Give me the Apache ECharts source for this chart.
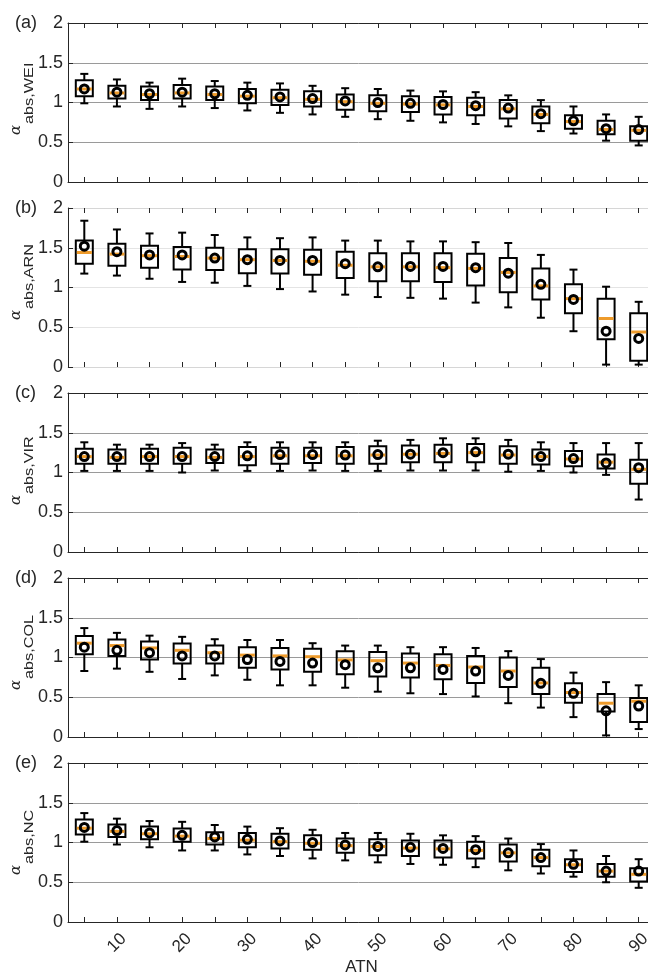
<!DOCTYPE html>
<html>
<head>
<meta charset="utf-8">
<script src="https://cdn.jsdelivr.net/npm/echarts@6/dist/echarts.min.js"></script>
<style>
  html, body { margin: 0; padding: 0; background: #fff; }
  #chart { width: 648px; height: 977px; }
</style>
</head>
<body>
<div id="chart"></div>
<script>
// ATN categories (one box per value)
const atn = ['5', '10', '15', '20', '25', '30', '35', '40', '45', '50',
             '55', '60', '65', '70', '75', '80', '85', '90'];
const panelLabels = ['(a)', '(b)', '(c)', '(d)', '(e)'];
const subscripts = ['abs,WEI', 'abs,ARN', 'abs,VIR', 'abs,COL', 'abs,NC'];

// each row: [lower whisker, Q1, median, Q3, upper whisker, mean]
const statsWEI = [
  [0.99, 1.08, 1.17, 1.28, 1.36, 1.17], [0.95, 1.05, 1.12, 1.21, 1.29, 1.13],
  [0.92, 1.03, 1.10, 1.20, 1.25, 1.11], [0.95, 1.05, 1.12, 1.22, 1.30, 1.13],
  [0.93, 1.03, 1.10, 1.20, 1.27, 1.11], [0.90, 0.99, 1.08, 1.17, 1.25, 1.09],
  [0.87, 0.97, 1.06, 1.16, 1.24, 1.07], [0.85, 0.95, 1.04, 1.14, 1.21, 1.05],
  [0.82, 0.91, 1.01, 1.10, 1.18, 1.02], [0.79, 0.89, 0.99, 1.09, 1.17, 1.00],
  [0.77, 0.88, 0.98, 1.08, 1.15, 0.99], [0.75, 0.85, 0.97, 1.07, 1.14, 0.975],
  [0.73, 0.84, 0.95, 1.06, 1.13, 0.96], [0.70, 0.80, 0.92, 1.03, 1.09, 0.93],
  [0.64, 0.74, 0.85, 0.95, 1.03, 0.86], [0.61, 0.67, 0.76, 0.84, 0.95, 0.77],
  [0.52, 0.60, 0.66, 0.77, 0.85, 0.67], [0.46, 0.52, 0.65, 0.70, 0.82, 0.66]
];
const statsARN = [
  [1.175, 1.30, 1.44, 1.59, 1.84, 1.52], [1.15, 1.275, 1.42, 1.55, 1.73, 1.45],
  [1.11, 1.25, 1.40, 1.525, 1.68, 1.41], [1.07, 1.225, 1.39, 1.51, 1.69, 1.41],
  [1.06, 1.22, 1.37, 1.50, 1.66, 1.37], [1.02, 1.18, 1.35, 1.48, 1.63, 1.35],
  [0.98, 1.175, 1.34, 1.48, 1.62, 1.34], [0.95, 1.16, 1.33, 1.475, 1.63, 1.34],
  [0.91, 1.12, 1.28, 1.45, 1.59, 1.30], [0.88, 1.08, 1.26, 1.43, 1.59, 1.26],
  [0.87, 1.08, 1.26, 1.43, 1.58, 1.265], [0.86, 1.07, 1.25, 1.43, 1.58, 1.265],
  [0.81, 1.025, 1.24, 1.425, 1.57, 1.25], [0.75, 0.94, 1.19, 1.37, 1.56, 1.18],
  [0.62, 0.85, 1.02, 1.24, 1.41, 1.04], [0.45, 0.675, 0.86, 1.04, 1.225, 0.85],
  [0.03, 0.35, 0.61, 0.86, 1.01, 0.45], [0.03, 0.08, 0.44, 0.675, 0.82, 0.36]
];
const statsVIR = [
  [1.02, 1.11, 1.20, 1.30, 1.38, 1.20], [1.02, 1.11, 1.19, 1.29, 1.35, 1.20],
  [1.02, 1.11, 1.20, 1.30, 1.35, 1.20], [1.00, 1.11, 1.20, 1.31, 1.37, 1.20],
  [1.025, 1.12, 1.19, 1.29, 1.35, 1.20], [1.02, 1.09, 1.20, 1.32, 1.38, 1.21],
  [1.02, 1.11, 1.21, 1.31, 1.38, 1.225], [1.025, 1.12, 1.21, 1.31, 1.38, 1.225],
  [1.02, 1.11, 1.21, 1.32, 1.38, 1.22], [1.02, 1.11, 1.22, 1.33, 1.40, 1.225],
  [1.025, 1.13, 1.23, 1.34, 1.41, 1.23], [1.025, 1.13, 1.24, 1.35, 1.43, 1.25],
  [1.025, 1.13, 1.25, 1.36, 1.43, 1.26], [1.01, 1.11, 1.22, 1.33, 1.41, 1.23],
  [1.02, 1.10, 1.20, 1.29, 1.38, 1.20], [1.00, 1.08, 1.17, 1.27, 1.37, 1.175],
  [0.97, 1.05, 1.13, 1.225, 1.37, 1.12], [0.66, 0.86, 1.04, 1.16, 1.37, 1.06]
];
const statsCOL = [
  [0.83, 1.04, 1.18, 1.27, 1.37, 1.13], [0.86, 1.02, 1.15, 1.225, 1.31, 1.09],
  [0.82, 0.975, 1.12, 1.20, 1.275, 1.06], [0.73, 0.925, 1.09, 1.175, 1.26, 1.02],
  [0.775, 0.925, 1.06, 1.15, 1.23, 1.02], [0.72, 0.87, 1.03, 1.13, 1.22, 0.975],
  [0.65, 0.85, 1.02, 1.12, 1.22, 0.95], [0.65, 0.82, 1.01, 1.11, 1.18, 0.93],
  [0.62, 0.79, 0.97, 1.08, 1.15, 0.91], [0.57, 0.76, 0.96, 1.07, 1.15, 0.87],
  [0.55, 0.75, 0.93, 1.05, 1.13, 0.87], [0.54, 0.725, 0.90, 1.04, 1.13, 0.85],
  [0.51, 0.68, 0.88, 1.02, 1.12, 0.83], [0.425, 0.63, 0.83, 1.00, 1.08, 0.775],
  [0.37, 0.54, 0.68, 0.87, 0.98, 0.675], [0.25, 0.43, 0.56, 0.675, 0.81, 0.55],
  [0.02, 0.32, 0.425, 0.54, 0.69, 0.33], [0.10, 0.19, 0.45, 0.49, 0.65, 0.39]
];
const statsNC = [
  [1.01, 1.10, 1.18, 1.29, 1.37, 1.19], [0.975, 1.07, 1.14, 1.225, 1.30, 1.15],
  [0.94, 1.04, 1.11, 1.20, 1.27, 1.12], [0.90, 1.01, 1.08, 1.175, 1.26, 1.09],
  [0.90, 0.975, 1.05, 1.13, 1.22, 1.07], [0.85, 0.94, 1.03, 1.12, 1.20, 1.04],
  [0.83, 0.925, 1.01, 1.11, 1.18, 1.02], [0.80, 0.91, 0.99, 1.09, 1.16, 1.00],
  [0.775, 0.87, 0.96, 1.05, 1.12, 0.97], [0.75, 0.84, 0.95, 1.04, 1.12, 0.95],
  [0.73, 0.83, 0.93, 1.025, 1.11, 0.94], [0.72, 0.81, 0.92, 1.025, 1.09, 0.925],
  [0.69, 0.80, 0.90, 1.01, 1.08, 0.91], [0.65, 0.76, 0.87, 0.975, 1.05, 0.87],
  [0.61, 0.70, 0.81, 0.91, 0.98, 0.81], [0.57, 0.63, 0.72, 0.79, 0.90, 0.725],
  [0.50, 0.57, 0.64, 0.73, 0.83, 0.64], [0.43, 0.51, 0.60, 0.675, 0.79, 0.64]
];

const panels = [statsWEI, statsARN, statsVIR, statsCOL, statsNC];

// ---- layout and styling ----
const GRID_LEFT = 68, GRID_WIDTH = 587, GRID_TOP = 23, GRID_STEP = 185, GRID_HEIGHT = 159;
const FONT = '"Liberation Sans", Arial, Helvetica, sans-serif';
const TEXT = '#262626';
const ORANGE = '#EE9B2B';
const BOX_W = 17, CAP_W = 8;
const frameColor = ['#262626', '#d6d6d6', '#262626', '#262626', '#262626'];
const gridColor = ['#9a9a9a', '#e4e4e4', '#9a9a9a', '#9a9a9a', '#9a9a9a'];

function renderBox(params, api) {
  const k = api.value(0);
  const y = v => api.coord([k, v])[1];
  const x = api.coord([k, api.value(3)])[0];
  const yLo = y(api.value(1)), yQ1 = y(api.value(2)), yMed = y(api.value(3));
  const yQ3 = y(api.value(4)), yHi = y(api.value(5)), yMean = y(api.value(6));
  const hw = BOX_W / 2, cw = CAP_W / 2;
  const ink = { stroke: '#000', lineWidth: 2, fill: 'none' };
  return {
    type: 'group',
    children: [
      { type: 'line', shape: { x1: x, y1: yHi, x2: x, y2: yQ3 }, style: ink },
      { type: 'line', shape: { x1: x, y1: yQ1, x2: x, y2: yLo }, style: ink },
      { type: 'line', shape: { x1: x - cw, y1: yHi, x2: x + cw, y2: yHi }, style: ink },
      { type: 'line', shape: { x1: x - cw, y1: yLo, x2: x + cw, y2: yLo }, style: ink },
      { type: 'rect', shape: { x: x - hw, y: yQ3, width: BOX_W, height: yQ1 - yQ3 }, style: ink },
      { type: 'line', shape: { x1: x - hw + 1, y1: yMed, x2: x + hw - 1, y2: yMed },
        style: { stroke: ORANGE, lineWidth: 3 } },
      { type: 'circle', shape: { cx: x, cy: yMean, r: 4 },
        style: { stroke: '#000', lineWidth: 3, fill: 'none' } }
    ]
  };
}

const grids = [], xAxes = [], yAxes = [], series = [], graphics = [];

panels.forEach((stats, i) => {
  const top = GRID_TOP + i * GRID_STEP;
  const last = i === panels.length - 1;
  grids.push({ left: GRID_LEFT, top: top, width: GRID_WIDTH, height: GRID_HEIGHT,
               containLabel: false, outerBoundsMode: 'none' });

  // bottom axis
  xAxes.push({
    type: 'category', gridIndex: i, position: 'bottom', data: atn, boundaryGap: true,
    axisLine: { show: true, lineStyle: { color: frameColor[i], width: 1 } },
    axisTick: { show: true, inside: true, length: 5, alignWithLabel: true, interval: 0,
                lineStyle: { color: '#262626' } },
    axisLabel: {
      show: last, interval: idx => idx % 2 === 1, rotate: 45, align: 'center',
      verticalAlign: 'middle', margin: 21, fontSize: 17, fontFamily: FONT, color: TEXT
    },
    splitLine: { show: false },
    name: last ? 'ATN' : '', nameLocation: 'middle', nameGap: 36,
    nameTextStyle: { fontSize: 17, fontFamily: FONT, color: TEXT }
  });
  // top frame with ticks
  xAxes.push({
    type: 'category', gridIndex: i, position: 'top', data: atn, boundaryGap: true,
    axisLine: { show: true, lineStyle: { color: frameColor[i], width: 1 } },
    axisTick: { show: true, inside: true, length: 5, alignWithLabel: true, interval: 0,
                lineStyle: { color: '#262626' } },
    axisLabel: { show: false },
    splitLine: { show: false }
  });

  yAxes.push({
    type: 'value', gridIndex: i, min: 0, max: 2, interval: 0.5,
    axisLine: { show: true, lineStyle: { color: '#262626', width: 1 } },
    axisTick: { show: true, inside: true, length: 5, lineStyle: { color: '#262626' } },
    axisLabel: { fontSize: 18, fontFamily: FONT, color: TEXT, margin: 5 },
    splitLine: { show: true, lineStyle: { color: gridColor[i], width: 1 } }
  });

  series.push({
    type: 'custom', xAxisIndex: 2 * i, yAxisIndex: i,
    renderItem: renderBox,
    encode: { x: 0, y: [1, 2, 3, 4, 5, 6] },
    data: stats.map((row, k) => [k].concat(row)),
    silent: true
  });

  // panel letter
  graphics.push({
    type: 'text', x: 15, y: top, silent: true,
    style: { text: panelLabels[i], fontSize: 18, fontFamily: FONT, fill: TEXT,
             align: 'left', verticalAlign: 'middle' }
  });
  // y-axis title: alpha with subscript, reading bottom to top
  graphics.push({
    type: 'text', x: 16, y: top + 107, rotation: Math.PI / 2, silent: true,
    style: { text: 'α', fontSize: 15, fontStyle: 'italic', fontFamily: '"DejaVu Serif", serif',
             fill: TEXT, align: 'center', verticalAlign: 'middle' }
  });
  graphics.push({
    type: 'text', x: 29, y: top + 101, rotation: Math.PI / 2, scaleX: 1.25, silent: true,
    style: { text: subscripts[i], fontSize: 13, fontFamily: FONT, fill: TEXT,
             align: 'left', verticalAlign: 'middle' }
  });
});

const chart = echarts.init(document.getElementById('chart'), null, { renderer: 'canvas' });
chart.setOption({
  backgroundColor: '#fff',
  animation: false,
  grid: grids,
  xAxis: xAxes,
  yAxis: yAxes,
  series: series,
  graphic: graphics
});
</script>
</body>
</html>
